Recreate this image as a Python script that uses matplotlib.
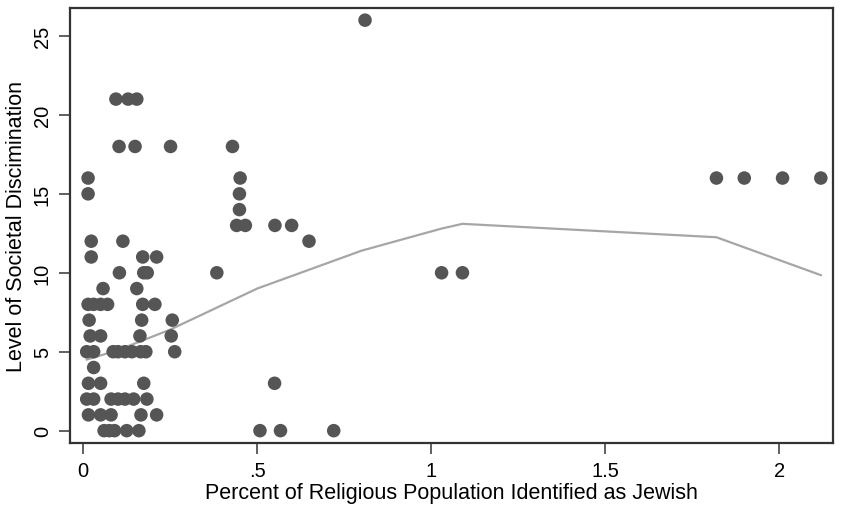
import matplotlib.pyplot as plt

plt.rcParams['font.family'] = ['Liberation Sans', 'DejaVu Sans']

# scatter points
pct_jewish = [0.81,
              0.094, 0.129, 0.154,
              0.103, 0.149, 0.251, 0.429,
              0.014, 0.451, 1.82, 1.90, 2.01, 2.12,
              0.014, 0.449,
              0.449,
              0.441, 0.466, 0.551, 0.599,
              0.023, 0.114, 0.649,
              0.023, 0.171, 0.211,
              0.104, 0.174, 0.184, 0.384, 1.03, 1.09,
              0.057, 0.154,
              0.014, 0.03, 0.05, 0.07, 0.171, 0.206,
              0.017, 0.168, 0.256,
              0.02, 0.05, 0.163, 0.253,
              0.01, 0.03, 0.086, 0.10, 0.12, 0.14, 0.165, 0.18, 0.263,
              0.03,
              0.015, 0.05, 0.174, 0.55,
              0.01, 0.03, 0.08, 0.10, 0.12, 0.145, 0.183,
              0.015, 0.05, 0.08, 0.166, 0.211,
              0.06, 0.075, 0.09, 0.125, 0.16, 0.508, 0.567, 0.72]
discrimination = [26,
                  21, 21, 21,
                  18, 18, 18, 18,
                  16, 16, 16, 16, 16, 16,
                  15, 15,
                  14,
                  13, 13, 13, 13,
                  12, 12, 12,
                  11, 11, 11,
                  10, 10, 10, 10, 10, 10,
                  9, 9,
                  8, 8, 8, 8, 8, 8,
                  7, 7, 7,
                  6, 6, 6, 6,
                  5, 5, 5, 5, 5, 5, 5, 5, 5,
                  4,
                  3, 3, 3, 3,
                  2, 2, 2, 2, 2, 2, 2,
                  1, 1, 1, 1, 1,
                  0, 0, 0, 0, 0, 0, 0, 0]

# smoothed fit line
fit_x = [0.01, 0.10, 0.25, 0.50, 0.80, 1.03, 1.09, 1.82, 2.12]
fit_y = [4.5, 5.1, 6.4, 9.0, 11.4, 12.8, 13.1, 12.25, 9.85]

fig = plt.figure(figsize=(8.43, 5.06), dpi=100)
ax = fig.add_axes([70/843, 62.5/506, 763/843, 434.5/506])

ax.plot(fit_x, fit_y, color='#a6a6a6', linewidth=1.6, zorder=1)
ax.scatter(pct_jewish, discrimination, s=95, color='#555555', edgecolors='none', zorder=2)

ax.set_xlim(-0.038, 2.155)
ax.set_ylim(-0.75, 26.77)
ax.set_xticks([0, 0.5, 1, 1.5, 2])
ax.set_xticklabels(['0', '.5', '1', '1.5', '2'])
ax.set_yticks([0, 5, 10, 15, 20, 25])
ax.set_yticklabels(['0', '5', '10', '15', '20', '25'], rotation=90, va='center')
ax.tick_params(labelsize=14.5, length=8, width=1.2, color='#444444', pad=5)

ax.set_xlabel('Percent of Religious Population Identified as Jewish', fontsize=15.5, labelpad=2)
ax.set_ylabel('Level of Societal Discimination', fontsize=15.5, labelpad=4)

for side in ['left', 'bottom', 'top', 'right']:
    ax.spines[side].set_linewidth(1.6)
    ax.spines[side].set_color('#333333')

fig.savefig('out.png', dpi=100)
